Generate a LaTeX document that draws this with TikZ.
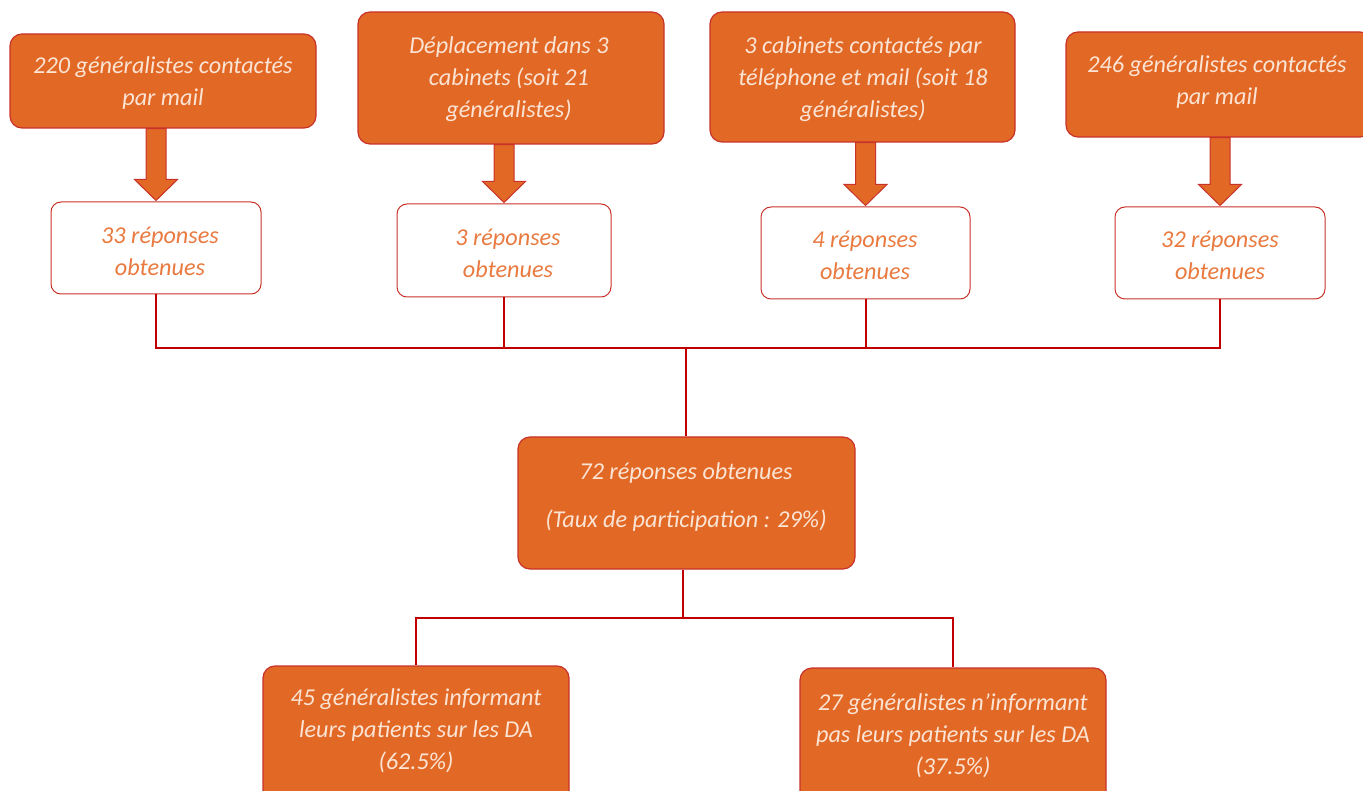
\documentclass[tikz,border=0pt]{standalone}
\usepackage{fontspec}
\setmainfont{Carlito}
\usetikzlibrary{calc}
\definecolor{org}{HTML}{E26826}
\definecolor{bord}{HTML}{C8322A}
\definecolor{lite}{HTML}{FBE4D4}
\definecolor{otxt}{HTML}{E97A40}
\definecolor{conn}{HTML}{C00000}
\tikzset{
  fillbox/.style={draw=bord, line width=1.2pt, fill=org, rounded corners=12pt, inner sep=0pt},
  whitebox/.style={draw=bord, line width=1pt, fill=white, rounded corners=10pt, inner sep=0pt},
  ltxt/.style={text=lite, font=\fontsize{24.2}{32}\selectfont\itshape, align=center, inner sep=0pt},
  otx/.style={text=otxt, font=\fontsize{24.2}{32}\selectfont\itshape, align=center, inner sep=0pt},
  cline/.style={draw=conn, line width=2pt},
  barrow/.style={draw=bord, line width=1pt, fill=org, line join=miter}
}
\begin{document}
\begin{tikzpicture}[x=1pt,y=-1pt]
\useasboundingbox (0,0) rectangle (1363,791);
\clip (0,0) rectangle (1363,791);
% top boxes
\node[fillbox, minimum width=306, minimum height=94] (a1) at (163,81) {};
\node[fillbox, minimum width=306, minimum height=132] (a2) at (511,78) {};
\node[fillbox, minimum width=305, minimum height=130] (a3) at (862.5,77) {};
\node[fillbox, minimum width=306, minimum height=105] (a4) at (1219,84.5) {};
\node[ltxt] (ta1) at (163,83) {220 généralistes contactés\\par mail};
\node[ltxt] (ta2) at (509,79) {Déplacement dans 3\\cabinets (soit 21\\généralistes)};
\node[ltxt] (ta3) at (863,79) {3 cabinets contactés par\\téléphone et mail (soit 18\\généralistes)};
\node[ltxt] (ta4) at (1217,82) {246 généralistes contactés\\par mail};
% white boxes
\node[whitebox, minimum width=210, minimum height=92] (w1) at (156,248) {};
\node[whitebox, minimum width=214, minimum height=93] (w2) at (504,250.5) {};
\node[whitebox, minimum width=209, minimum height=92] (w3) at (865.5,253) {};
\node[whitebox, minimum width=210, minimum height=92] (w4) at (1220,253) {};
\node[otx] (tw1) at (160,251) {33 réponses\\obtenues};
\node[otx] (tw2) at (508,253) {3 réponses\\obtenues};
\node[otx] (tw3) at (865,255) {4 réponses\\obtenues};
\node[otx] (tw4) at (1220,255) {32 réponses\\obtenues};
% block arrows
\foreach \s/\t in {a1/w1,a2/w2,a3/w3,a4/w4}{
  \draw[barrow] ($(\t.north |- \s.south)+(-10,0)$) -- ($(\t.north)+(-10,-22)$) -- ($(\t.north)+(-21.5,-22)$)
    -- ($(\t.north)+(0,-1)$) -- ($(\t.north)+(21.5,-22)$) -- ($(\t.north)+(10,-22)$)
    -- ($(\t.north |- \s.south)+(10,0)$) -- cycle;
}
% central box
\node[fillbox, minimum width=337, minimum height=132] (c) at (686.5,503) {};
\node[ltxt, font=\fontsize{24.2}{48}\selectfont\itshape] (tc) at (686,497) {72 réponses obtenues\\(Taux de participation : 29\%)};
% bottom boxes
\node[fillbox, minimum width=306, minimum height=150] (b1) at (416,741) {};
\node[fillbox, minimum width=306, minimum height=150] (b2) at (953,743) {};
\node[ltxt] (tb1) at (416,731) {45 généralistes informant\\leurs patients sur les DA\\(62.5\%)};
\node[ltxt] (tb2) at (953,736) {27 généralistes n’informant\\pas leurs patients sur les DA\\(37.5\%)};
% connectors
\coordinate (hl) at (686,348);
\coordinate (hb) at (683,618);
\draw[cline] (w1.south) -- (w1.south |- hl) -- (w4.south |- hl) -- (w4.south);
\draw[cline] (w2.south) -- (w2.south |- hl);
\draw[cline] (w3.south) -- (w3.south |- hl);
\draw[cline] (hl) -- (hl |- c.north);
\draw[cline] (hb |- c.south) -- (hb);
\draw[cline] (b1.north) -- (b1.north |- hb) -- (b2.north |- hb) -- (b2.north);
\end{tikzpicture}
\end{document}
